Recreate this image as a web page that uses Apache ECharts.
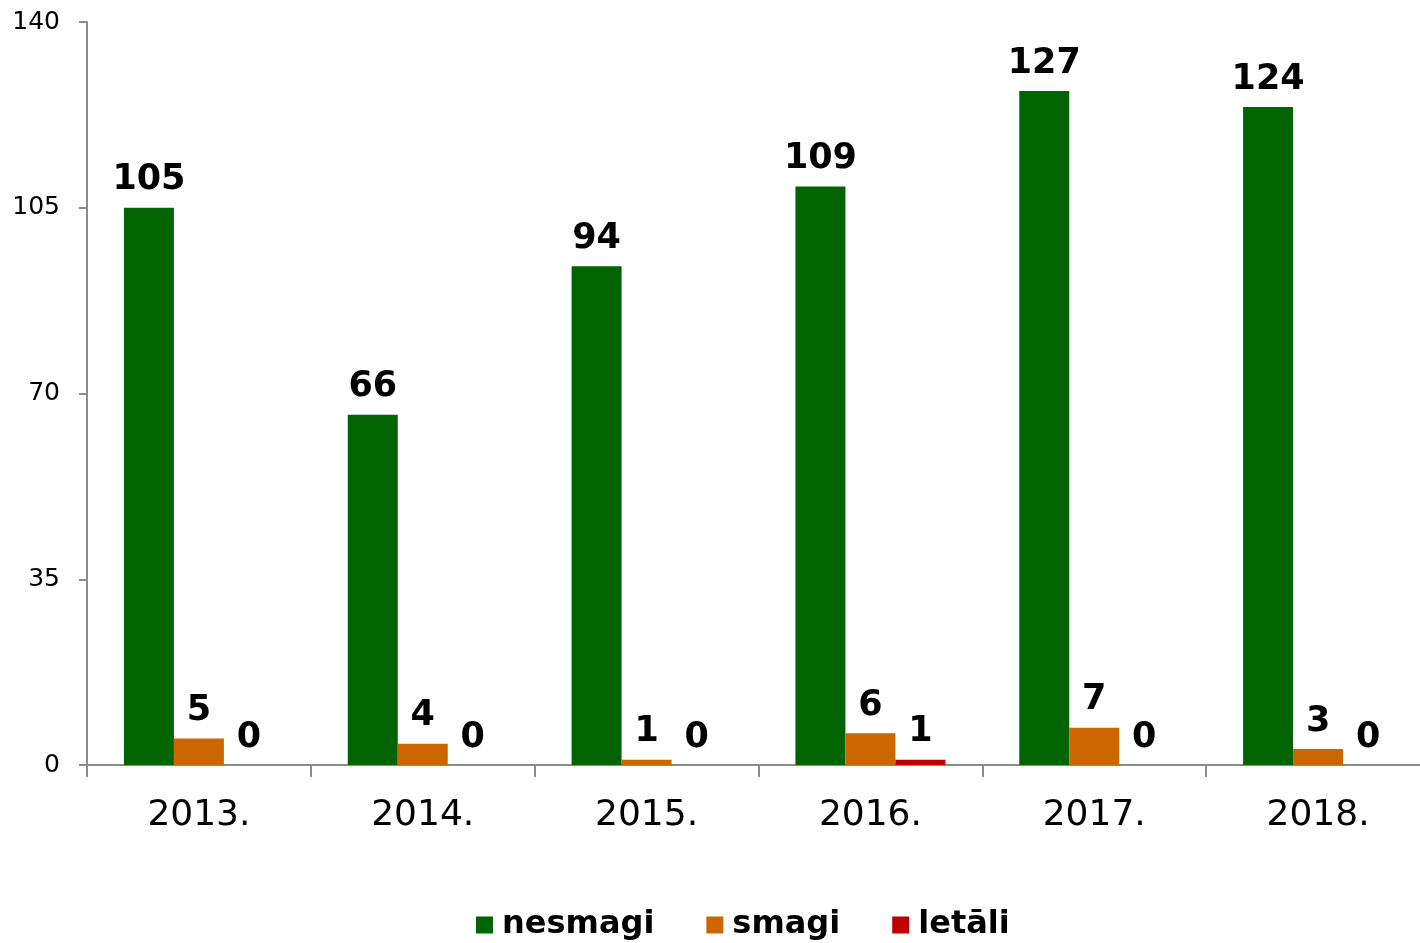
<!DOCTYPE html>
<html>
<head>
<meta charset="utf-8">
<script src="https://cdn.jsdelivr.net/npm/echarts@6/dist/echarts.min.js"></script>
<style>
html,body{margin:0;padding:0;background:#fff;overflow:hidden;}
#c{width:1430px;height:943px;}
</style>
</head>
<body>
<div id="c"></div>
<script>
const categories = ["2013.", "2014.", "2015.", "2016.", "2017.", "2018."];
const seriesNames = ["nesmagi", "smagi", "letāli"];
const nesmagi = [105, 66, 94, 109, 127, 124];
const smagi = [5, 4, 1, 6, 7, 3];
const letali = [0, 0, 0, 1, 0, 0];
const yTicks = [0, 35, 70, 105, 140];
const colors = ["#006400", "#CC6600", "#C00000"];

const FONT = "DejaVu Sans, Verdana, sans-serif";
const chart = echarts.init(document.getElementById('c'), null, {renderer: 'canvas'});

function mkSeries(name, data, color) {
  return {
    name: name,
    type: 'bar',
    data: data,
    barWidth: 50,
    barGap: '0%',
    itemStyle: {color: color},
    label: {
      show: true,
      position: 'top',
      distance: 10,
      color: '#000',
      fontFamily: FONT,
      fontWeight: 'bold',
      fontSize: 35
    }
  };
}

chart.setOption({
  animation: false,
  backgroundColor: '#fff',
  grid: {left: 87, right: 0, top: 22, bottom: 178, containLabel: false},
  legend: {
    data: seriesNames,
    bottom: 2,
    left: 476,
    padding: 0,
    itemWidth: 17,
    itemHeight: 17,
    itemGap: 52,
    icon: 'rect',
    textStyle: {fontFamily: FONT, fontWeight: 'bold', fontSize: 32, color: '#000', padding: [0,0,0,4]}
  },
  xAxis: {
    type: 'category',
    data: categories,
    axisLine: {lineStyle: {color: '#8c8c8c', width: 2}},
    axisTick: {show: true, length: 12, lineStyle: {color: '#8c8c8c', width: 2}},
    axisLabel: {color: '#000', fontFamily: FONT, fontSize: 36, margin: 33}
  },
  yAxis: {
    type: 'value',
    min: yTicks[0],
    max: yTicks[yTicks.length - 1],
    interval: 35,
    splitLine: {show: false},
    axisLine: {show: true, lineStyle: {color: '#8c8c8c', width: 2}},
    axisTick: {show: true, length: 8, lineStyle: {color: '#8c8c8c', width: 2}},
    axisLabel: {color: '#000', fontFamily: FONT, fontSize: 25, margin: 27}
  },
  series: [
    mkSeries(seriesNames[0], nesmagi, colors[0]),
    mkSeries(seriesNames[1], smagi, colors[1]),
    mkSeries(seriesNames[2], letali, colors[2])
  ]
});
</script>
</body>
</html>
